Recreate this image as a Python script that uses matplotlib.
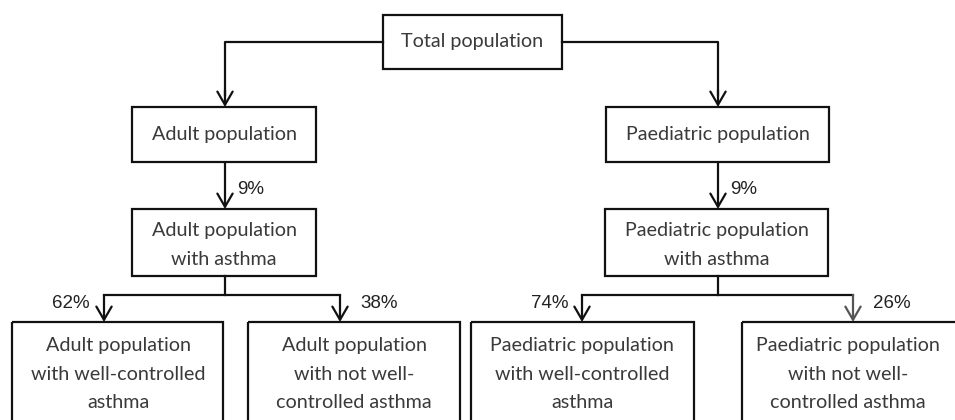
import matplotlib
matplotlib.use("Agg")
import matplotlib.pyplot as plt
from matplotlib.patches import Rectangle

# box labels
top_label = "Total population"
group_labels = ["Adult population", "Paediatric population"]
asthma_labels = ["Adult population\nwith asthma", "Paediatric population\nwith asthma"]
leaf_labels = ["Adult population\nwith well-controlled\nasthma",
               "Adult population\nwith not well-\ncontrolled asthma",
               "Paediatric population\nwith well-controlled\nasthma",
               "Paediatric population\nwith not well-\ncontrolled asthma"]
# percentages
asthma_pct = ["9%", "9%"]
control_pct = ["62%", "38%", "74%", "26%"]

W, H = 955, 420
fig = plt.figure(figsize=(W / 100, H / 100), dpi=100)
ax = fig.add_axes([0, 0, 1, 1])
ax.set_xlim(0, W)
ax.set_ylim(H, 0)
ax.axis("off")

LC = "#111111"
TC = "#3a3a3a"
BOXFONT = dict(family=["Lato", "DejaVu Sans"], fontsize=14.2, color=TC)
PCTFONT = dict(family=["Liberation Sans", "DejaVu Sans"], fontsize=13.5, color="#222222")
LW = 1.6


def box(x0, x1, y0, y1, text, ty=None, ls=1.75):
    ax.add_patch(Rectangle((x0, y0), x1 - x0, y1 - y0, fill=False,
                           ec=LC, lw=LW, clip_on=False))
    cy = (y0 + y1) / 2 if ty is None else ty
    ax.text((x0 + x1) / 2, cy, text, ha="center", va="center",
            linespacing=ls, **BOXFONT)


def line(xs, ys, c=LC):
    ax.plot(xs, ys, color=c, lw=LW, solid_capstyle="projecting")


def arrow(x, y0, y1, c=LC):
    ax.annotate("", xy=(x, y1), xytext=(x, y0),
                arrowprops=dict(arrowstyle="->,head_length=0.95,head_width=0.55",
                                mutation_scale=10, color=c, lw=LW,
                                shrinkA=0, shrinkB=0))


# top
box(383, 562, 15, 69, top_label)
centers = [225, 718]
line([383, centers[0], centers[0]], [42, 42, 95])
line([562, centers[1], centers[1]], [42, 42, 95])
arrow(centers[0], 90, 107)
arrow(centers[1], 90, 107)

# group boxes
gboxes = [(132, 316), (606, 829)]
abox = [(132, 316), (605, 828)]
for i, c in enumerate(centers):
    box(gboxes[i][0], gboxes[i][1], 107, 162, group_labels[i])
    arrow(c, 162, 209)
    ax.text(c + 12, 189, asthma_pct[i], ha="left", va="center", **PCTFONT)
    box(abox[i][0], abox[i][1], 209, 276, asthma_labels[i], ty=245, ls=1.85)

# branches
branch_x = [(104, 340), (582, 853)]
for i, c in enumerate(centers):
    bl, br = branch_x[i]
    line([c, c], [276, 295])
    line([bl, br], [295, 295])
    col_r = LC if i == 0 else "#555555"
    arrow(bl, 295, 322)
    arrow(br, 295, 322, col_r)
    ax.text(bl - 14, 304, control_pct[2 * i], ha="right", va="center", **PCTFONT)
    ax.text(br + 20, 304, control_pct[2 * i + 1], ha="left", va="center", **PCTFONT)

# leaf boxes (bottom cut off by the figure edge)
leaf_x = [(12, 223), (248, 460), (471, 694), (742, 990)]
leaf_text_x = [118, 354, 582, 848]
for i, (x0, x1) in enumerate(leaf_x):
    ax.add_patch(Rectangle((x0, 322), x1 - x0, 200, fill=False,
                           ec=LC, lw=LW, clip_on=True))
    ax.text(leaf_text_x[i], 374, leaf_labels[i], ha="center", va="center",
            linespacing=1.8, **BOXFONT)

fig.savefig("out.png", dpi=100)
plt.close(fig)
